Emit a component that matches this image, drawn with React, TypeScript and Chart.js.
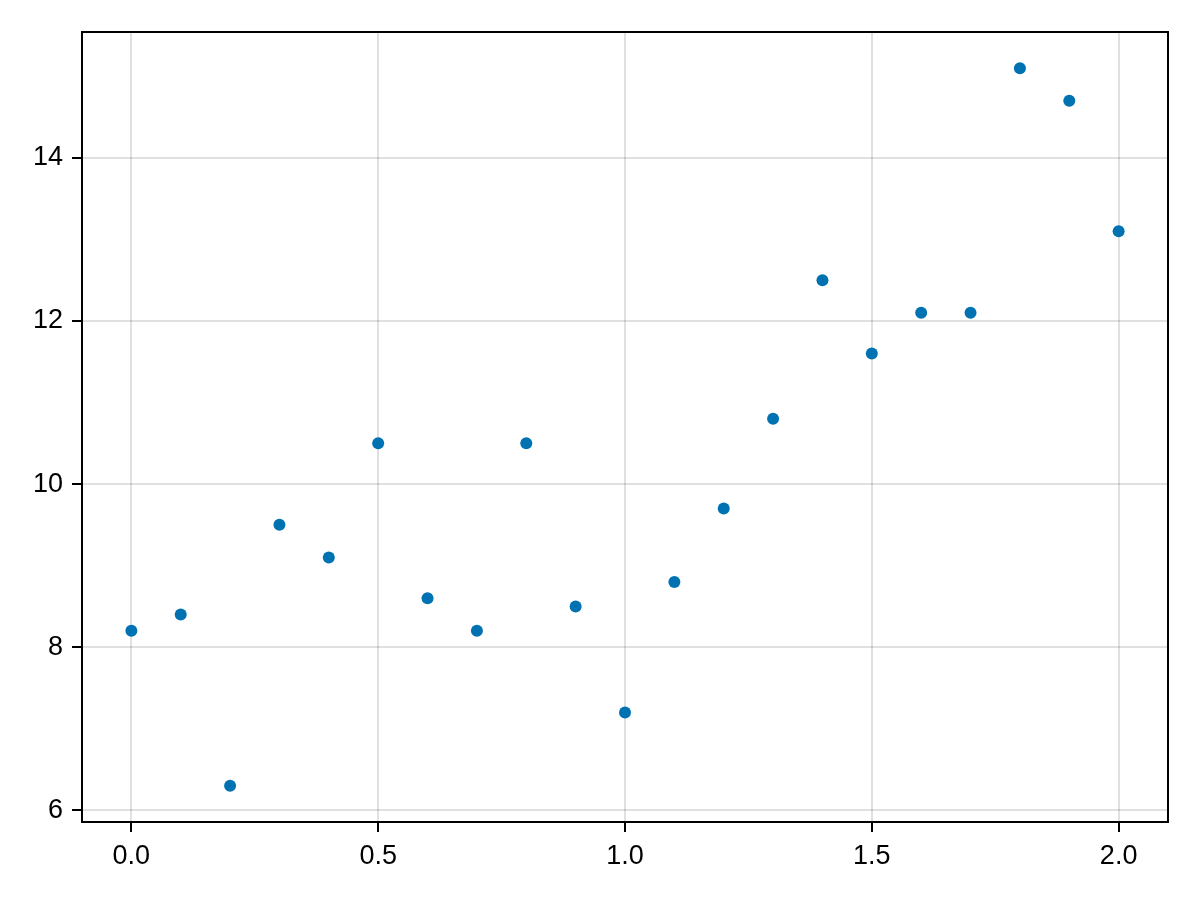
import React, { useEffect, useRef } from "react";
import { Chart, registerables } from "chart.js";

Chart.register(...registerables);

const xValues = [0.0, 0.1, 0.2, 0.3, 0.4, 0.5, 0.6, 0.7, 0.8, 0.9, 1.0, 1.1, 1.2, 1.3, 1.4, 1.5, 1.6, 1.7, 1.8, 1.9, 2.0];
const yValues = [8.2, 8.4, 6.3, 9.5, 9.1, 10.5, 8.6, 8.2, 10.5, 8.5, 7.2, 8.8, 9.7, 10.8, 12.5, 11.6, 12.1, 12.1, 15.1, 14.7, 13.1];

const xTickValues = [0, 0.5, 1.0, 1.5, 2.0];
const xTickLabels = ["0.0", "0.5", "1.0", "1.5", "2.0"];
const yTickValues = [6, 8, 10, 12, 14];
const yTickLabels = ["6", "8", "10", "12", "14"];

const X_MIN = -0.1;
const X_MAX = 2.1;
const Y_MIN = 5.856;
const Y_MAX = 15.544;

const FONT = { family: "'Liberation Sans', Arial, sans-serif", size: 27 };

const borderPlugin = {
  id: "frameBorder",
  afterDraw(chart: any) {
    const { ctx, chartArea } = chart;
    const xs = chart.scales.x;
    const ys = chart.scales.y;
    ctx.save();
    ctx.strokeStyle = "#000";
    ctx.lineWidth = 2;
    ctx.strokeRect(chartArea.left, chartArea.top, chartArea.right - chartArea.left, chartArea.bottom - chartArea.top);
    ctx.beginPath();
    xTickValues.forEach((v) => {
      const px = Math.round(xs.getPixelForValue(v));
      ctx.moveTo(px, chartArea.bottom);
      ctx.lineTo(px, chartArea.bottom + 10);
    });
    yTickValues.forEach((v) => {
      const py = Math.round(ys.getPixelForValue(v));
      ctx.moveTo(chartArea.left, py);
      ctx.lineTo(chartArea.left - 10, py);
    });
    ctx.stroke();
    ctx.restore();
  },
};

export default function App() {
  const ref = useRef<HTMLCanvasElement | null>(null);

  useEffect(() => {
    if (!ref.current) return;
    const points = xValues.map((x, i) => ({ x, y: yValues[i] }));
    const chart = new Chart(ref.current, {
      type: "scatter",
      data: {
        datasets: [
          {
            data: points,
            backgroundColor: "rgb(0,114,178)",
            borderWidth: 0,
            pointRadius: 6,
            pointHoverRadius: 6,
          },
        ],
      },
      options: {
        responsive: false,
        animation: false,
        devicePixelRatio: 1,
        layout: { padding: { top: 32, right: 32, left: 0, bottom: 0 } },
        plugins: { legend: { display: false }, tooltip: { enabled: false } },
        scales: {
          x: {
            type: "linear",
            min: X_MIN,
            max: X_MAX,
            afterBuildTicks: (scale: any) => {
              scale.ticks = xTickValues.map((v) => ({ value: v }));
            },
            afterFit: (scale: any) => {
              scale.height = 78;
            },
            ticks: {
              font: FONT,
              color: "#000",
              padding: 8,
              maxRotation: 0,
              autoSkip: false,
              callback: (v: any) => {
                const i = xTickValues.indexOf(Number(v));
                return i >= 0 ? xTickLabels[i] : "";
              },
            },
            grid: {
              color: "rgba(0,0,0,0.12)",
              lineWidth: 2,
              drawTicks: true,
              tickLength: 10,
              tickColor: "rgba(0,0,0,0)",
              tickWidth: 2,
            },
            border: { display: false },
          },
          y: {
            type: "linear",
            min: Y_MIN,
            max: Y_MAX,
            afterBuildTicks: (scale: any) => {
              scale.ticks = yTickValues.map((v) => ({ value: v }));
            },
            afterFit: (scale: any) => {
              scale.width = 82;
            },
            ticks: {
              font: FONT,
              color: "#000",
              padding: 9,
              autoSkip: false,
              callback: (v: any) => {
                const i = yTickValues.indexOf(Number(v));
                return i >= 0 ? yTickLabels[i] : "";
              },
            },
            grid: {
              color: "rgba(0,0,0,0.12)",
              lineWidth: 2,
              drawTicks: true,
              tickLength: 10,
              tickColor: "rgba(0,0,0,0)",
              tickWidth: 2,
            },
            border: { display: false },
          },
        },
      },
      plugins: [borderPlugin],
    });
    return () => chart.destroy();
  }, []);

  return (
    <div style={{ position: "fixed", left: 0, top: 0, width: 1200, height: 900, background: "#fff" }}>
      <canvas ref={ref} width={1200} height={900} style={{ width: 1200, height: 900, display: "block" }} />
    </div>
  );
}
